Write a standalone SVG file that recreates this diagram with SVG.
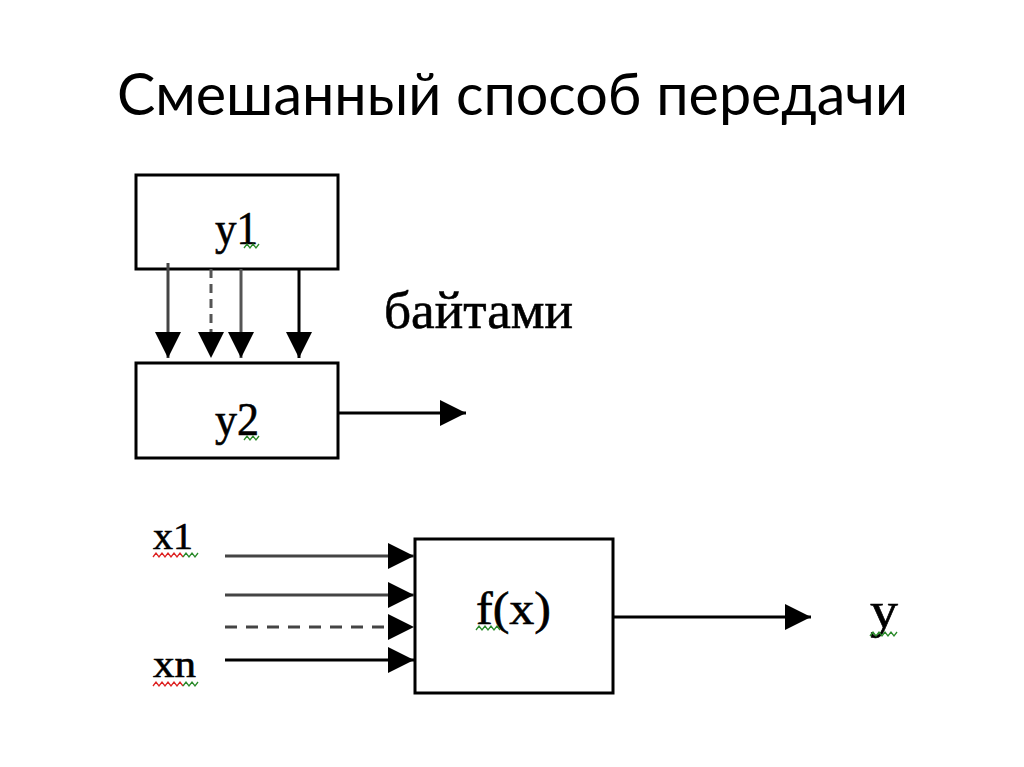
<svg xmlns="http://www.w3.org/2000/svg" width="1024" height="767" viewBox="0 0 1024 767">
<defs>
<marker id="ah" markerWidth="26" markerHeight="26" refX="26" refY="13" orient="auto" markerUnits="userSpaceOnUse"><path d="M0,0 L26,13 L0,26 Z" fill="#000"/></marker>
</defs>
<style>
.box{fill:#fff;stroke:#000;stroke-width:3}
.lbl{font-family:"Liberation Serif",serif;fill:#000;stroke:#000;stroke-width:0.6}
.ln{stroke-width:3;fill:none;marker-end:url(#ah)}
.sq{fill:none;stroke-width:1.3}
</style>
<rect width="1024" height="767" fill="#fff"/>
<text x="117" y="115" font-family="Lato, sans-serif" font-size="58" fill="#000" textLength="791" lengthAdjust="spacingAndGlyphs">Смешанный способ передачи</text>
<g id="y1"><rect class="box" x="136" y="175" width="202" height="94"/><text class="lbl" x="215" y="244" font-size="46" textLength="43" lengthAdjust="spacingAndGlyphs">у1</text><polyline class="sq" stroke="#2a8a2a" points="244,248 247,244 250,248 253,244 256,248 259,244"/></g>
<g id="y2"><rect class="box" x="136" y="363" width="202" height="95"/><text class="lbl" x="215" y="435" font-size="46" textLength="44" lengthAdjust="spacingAndGlyphs">у2</text><polyline class="sq" stroke="#2a8a2a" points="244,440 247,436 250,440 253,436 256,440 259,436"/></g>
<g id="bytes"><text class="lbl" x="384" y="328" font-size="52" textLength="189" lengthAdjust="spacingAndGlyphs">байтами</text></g>
<g id="fx"><rect class="box" x="415" y="539" width="198" height="154"/><text class="lbl" x="476" y="624" font-size="46" textLength="75" lengthAdjust="spacingAndGlyphs">f(x)</text><polyline class="sq" stroke="#2a8a2a" points="476,630 479,626 482,630 485,626 488,630 491,626 494,630 497,626 500,630"/></g>
<g id="x1"><text class="lbl" x="153" y="549" font-size="38" textLength="40" lengthAdjust="spacingAndGlyphs">x1</text><polyline class="sq" stroke="#d22" points="153,557 156,553 159,557 162,553 165,557 168,553 171,557 174,553 177,557 180,553 183,557"/><polyline class="sq" stroke="#2a8a2a" points="183,557 186,553 189,557 192,553 195,557 198,553"/></g>
<g id="xn"><text class="lbl" x="153" y="677" font-size="38" textLength="43" lengthAdjust="spacingAndGlyphs">xn</text><polyline class="sq" stroke="#d22" points="153,686 156,682 159,686 162,682 165,686 168,682 171,686 174,682 177,686 180,682 183,686"/><polyline class="sq" stroke="#2a8a2a" points="183,686 186,682 189,686 192,682 195,686 198,682"/></g>
<g id="y"><text class="lbl" x="870" y="627" font-size="50" textLength="28" lengthAdjust="spacingAndGlyphs">y</text><polyline class="sq" stroke="#2a8a2a" points="870,636 873,632 876,636 879,632 882,636 885,632 888,636 891,632 894,636 897,632"/></g>
<g id="connectors">
<line class="ln" stroke="#444" x1="168" y1="263" x2="168" y2="358"/>
<line class="ln" stroke="#555" stroke-dasharray="9,6" x1="211" y1="269" x2="211" y2="358"/>
<line class="ln" stroke="#555" x1="241" y1="269" x2="241" y2="358"/>
<line class="ln" stroke="#000" x1="299" y1="269" x2="299" y2="358"/>
<line class="ln" stroke="#000" x1="338" y1="413" x2="466" y2="413"/>
<line class="ln" stroke="#444" x1="225" y1="556" x2="414" y2="556"/>
<line class="ln" stroke="#444" x1="225" y1="595" x2="414" y2="595"/>
<line class="ln" stroke="#444" stroke-dasharray="12,9" x1="225" y1="627" x2="414" y2="627"/>
<line class="ln" stroke="#000" x1="225" y1="660" x2="414" y2="660"/>
<line class="ln" stroke="#000" x1="613" y1="617" x2="811" y2="617"/>
</g>
</svg>
